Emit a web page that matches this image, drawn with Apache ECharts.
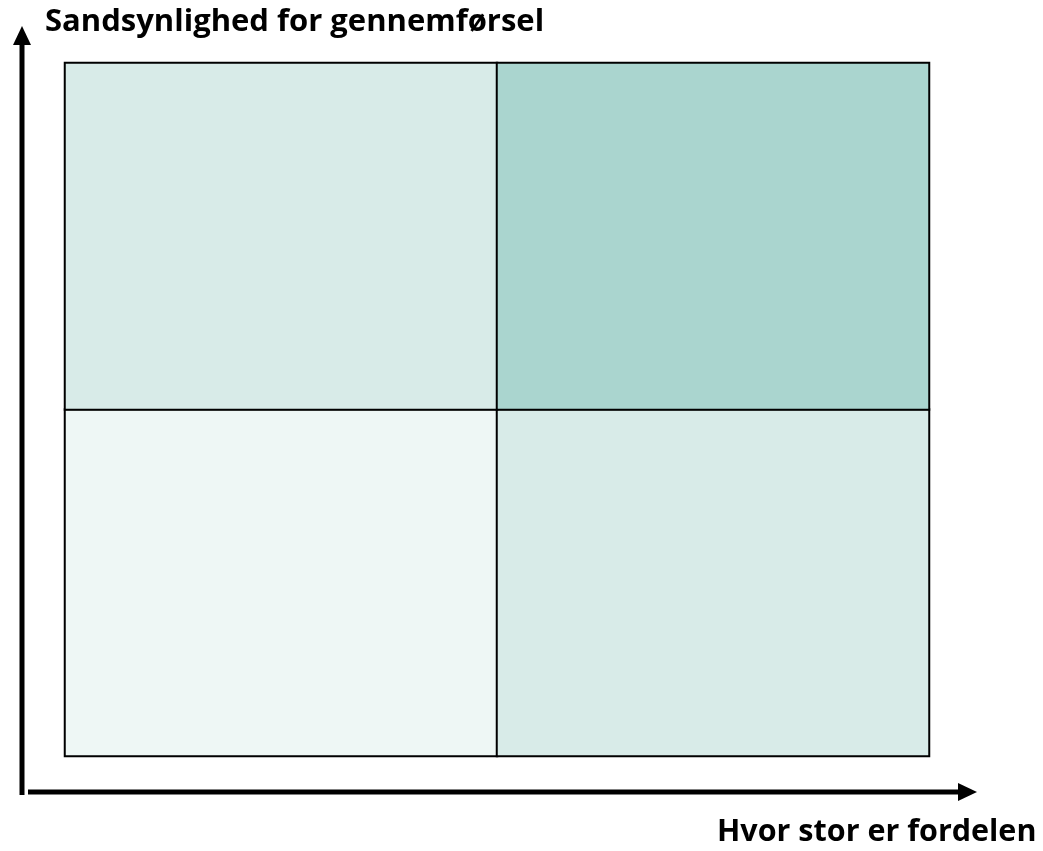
<!DOCTYPE html>
<html>
<head>
<meta charset="utf-8">
<script src="https://cdn.jsdelivr.net/npm/echarts@6/dist/echarts.min.js"></script>
<style>
html,body{margin:0;padding:0;background:#fff;}
#c{width:1043px;height:851px;}
</style>
</head>
<body>
<div id="c"></div>
<script>
// Data
var xCategories = ['Lille', 'Stor'];
var yCategories = ['Lav', 'Høj'];
// [xIndex, yIndex, level]
var cellValues = [
  [0, 0, 0],
  [1, 0, 1],
  [0, 1, 1],
  [1, 1, 2]
];
var levelColors = ['#EEF7F5', '#D8EBE8', '#AAD5CF'];
var yAxisTitle = 'Sandsynlighed for gennemførsel';
var xAxisTitle = 'Hvor stor er fordelen';

var chart = echarts.init(document.getElementById('c'), null, {renderer: 'canvas'});
var font = '"Open Sans", "DejaVu Sans", sans-serif';
chart.setOption({
  animation: false,
  backgroundColor: '#ffffff',
  grid: {left: 65, top: 63, width: 864, height: 693},
  xAxis: {type: 'category', data: xCategories, show: false},
  yAxis: {type: 'category', data: yCategories, show: false},
  visualMap: {
    show: false,
    type: 'piecewise',
    dimension: 2,
    pieces: levelColors.map(function (c, i) { return {value: i, color: c}; })
  },
  series: [{
    type: 'heatmap',
    data: cellValues,
    itemStyle: {borderColor: '#000', borderWidth: 2},
    emphasis: {disabled: true}
  }],
  graphic: [
    {type: 'rect', shape: {x: 19.5, y: 44, width: 5, height: 751}, style: {fill: '#000'}},
    {type: 'polygon', shape: {points: [[22, 26], [13, 45], [31, 45]]}, style: {fill: '#000'}},
    {type: 'rect', shape: {x: 28, y: 789.5, width: 932, height: 5}, style: {fill: '#000'}},
    {type: 'polygon', shape: {points: [[977, 792], [958, 783], [958, 801]]}, style: {fill: '#000'}},
    {type: 'text', left: 45, top: 7, style: {text: yAxisTitle, font: 'bold 31px ' + font, fill: '#000'}},
    {type: 'text', left: 717, top: 817, style: {text: xAxisTitle, font: 'bold 30.5px ' + font, fill: '#000'}}
  ]
});
</script>
</body>
</html>
